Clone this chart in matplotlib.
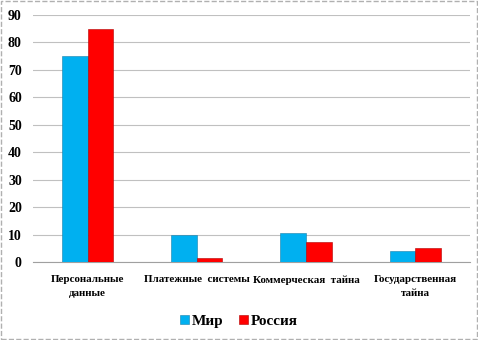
import numpy as np
import matplotlib
matplotlib.use("Agg")
import matplotlib.pyplot as plt
from matplotlib.patches import Rectangle

categories = ["Персональные\nданные", "Платежные  системы", "Коммерческая  тайна", "Государственная\nтайна"]
world = [75, 10, 10.5, 4]
russia = [85, 1.5, 7.2, 5.1]
yticks = [0, 10, 20, 30, 40, 50, 60, 70, 80, 90]

plt.rcParams['font.family'] = ['Liberation Serif', 'DejaVu Serif']

fig = plt.figure(figsize=(4.78, 3.40), dpi=100)
ax = fig.add_axes([0.069, 0.229, 0.914, 0.727])

x = np.arange(len(categories))
w = 0.235
ax.bar(x - w / 2, world, w, color='#00B0F0', edgecolor='#1a7fa8', linewidth=0.4, label='Мир', zorder=3)
ax.bar(x + w / 2, russia, w, color='#FF0000', edgecolor='#b00000', linewidth=0.4, label='Россия', zorder=3)

ax.set_ylim(0, 90)
ax.set_xlim(-0.5, len(categories) - 0.5)
ax.set_yticks(yticks)
ax.set_yticklabels([str(v) for v in yticks], fontsize=10, fontweight='bold')
ax.set_xticks(x)
ax.set_xticklabels(categories, fontsize=7.9, fontweight='bold', linespacing=1.7)
ax.tick_params(axis='both', length=0)
ax.tick_params(axis='x', pad=9.5)
ax.tick_params(axis='y', pad=8)
ax.yaxis.grid(True, color='#c0c0c0', linewidth=0.8, zorder=0)
for s in ['top', 'right', 'left']:
    ax.spines[s].set_visible(False)
ax.spines['bottom'].set_color('#a0a0a0')

fig.legend(loc='center', bbox_to_anchor=(0.5, 0.055), ncol=2, frameon=False,
           prop={'size': 11, 'weight': 'bold'}, handlelength=0.6, handleheight=0.6,
           handletextpad=0.2, columnspacing=1.0)

fig.patches.append(Rectangle((0.003, 0.004), 0.994, 0.992, transform=fig.transFigure,
                             fill=False, edgecolor='#b0b0b0', linewidth=1.0, linestyle='--'))

fig.savefig("out.png", dpi=100)
